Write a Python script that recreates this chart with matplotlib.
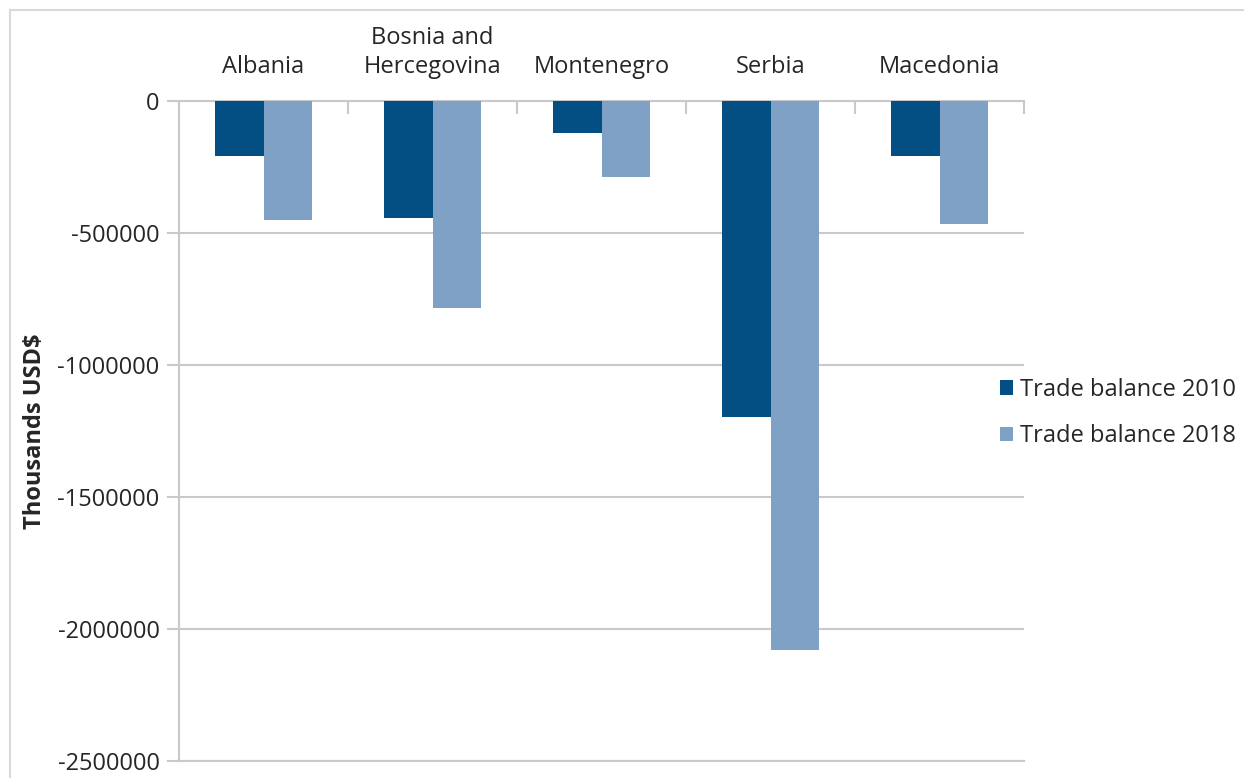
import matplotlib
matplotlib.use("Agg")
import matplotlib.pyplot as plt
from matplotlib.lines import Line2D
import numpy as np

countries = ["Albania", "Bosnia and\nHercegovina", "Montenegro", "Serbia", "Macedonia"]
balance_2010 = [-207000, -442000, -120000, -1196000, -207000]
balance_2018 = [-451000, -784000, -287000, -2078000, -465000]
series_labels = ["Trade balance 2010", "Trade balance 2018"]
y_ticks = [0, -500000, -1000000, -1500000, -2000000, -2500000]

plt.rcParams['font.family'] = ['Open Sans', 'DejaVu Sans']
text_color = "#262626"
grid_color = "#c9c9c9"
dark_blue = "#034F84"
light_blue = "#7FA1C5"
fs = 17

fig = plt.figure(figsize=(12.44, 7.78), dpi=100)
ax = fig.add_axes([179 / 1244, 1 - 761 / 778, (1024 - 179) / 1244, (761 - 101) / 778])

x = np.arange(len(countries))
w = 0.286
ax.bar(x - w / 2, balance_2010, w, color=dark_blue, label=series_labels[0], zorder=3)
ax.bar(x + w / 2, balance_2018, w, color=light_blue, label=series_labels[1], zorder=3)

ax.set_xlim(-0.5, len(countries) - 0.5)
ax.set_ylim(-2500000, 0)
ax.set_yticks(y_ticks)
ax.set_yticklabels([str(v) for v in y_ticks], fontsize=fs, color=text_color)
ax.yaxis.grid(True, color=grid_color, linewidth=1.5, zorder=0)
ax.tick_params(axis="y", length=9, width=1.5, color=grid_color, pad=5)

# category labels sit above the zero line
ax.xaxis.tick_top()
ax.set_xticks(x)
ax.set_xticklabels(countries, fontsize=fs, color=text_color, linespacing=1.25)
ax.tick_params(axis="x", which="major", length=0, pad=16)
ax.set_xticks(np.arange(len(countries) + 1) - 0.5, minor=True)
ax.tick_params(axis="x", which="minor", direction="in", length=9, width=1.5,
               color=grid_color, top=True, bottom=False)

for side in ["top", "left", "bottom"]:
    ax.spines[side].set_color(grid_color)
    ax.spines[side].set_linewidth(1.5)
ax.spines["right"].set_visible(False)

ax.set_ylabel("Thousands USD$", fontsize=fs, fontweight="bold", color=text_color)
ax.yaxis.set_label_coords(-0.156, 0.5)

fig.legend(loc="center left", bbox_to_anchor=(1000 / 1244, 1 - 413 / 778), frameon=False,
           fontsize=fs, borderpad=0, borderaxespad=0, handlelength=0.55, handleheight=0.55,
           handletextpad=0.3, labelspacing=0.95, labelcolor=text_color)

# outer chart border
fig.add_artist(Line2D([10 / 1244, 10 / 1244], [0, 1 - 10 / 778], transform=fig.transFigure,
                      color="#d9d9d9", linewidth=1.5))
fig.add_artist(Line2D([10 / 1244, 1], [1 - 10 / 778, 1 - 10 / 778], transform=fig.transFigure,
                      color="#d9d9d9", linewidth=1.5))

fig.savefig("out.png", dpi=100)
